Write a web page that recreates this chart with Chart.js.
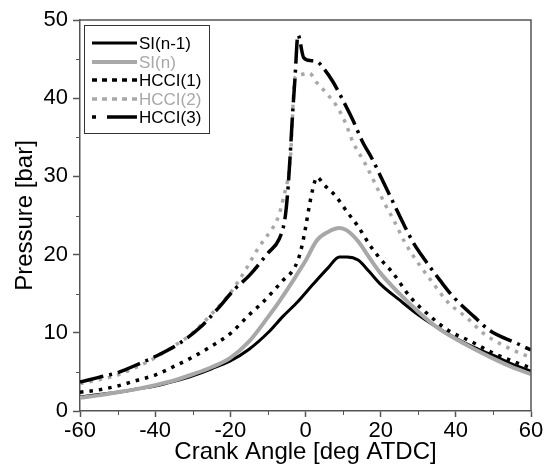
<!DOCTYPE html>
<html>
<head>
<meta charset="utf-8">
<script src="https://cdn.jsdelivr.net/npm/chart.js"></script>
<style>
  html, body { margin: 0; padding: 0; background: #fff; }
</style>
</head>
<body>
<canvas id="chart" width="551" height="470"></canvas>
<script>
// crank angle [deg ATDC] / pressure [bar]
const siPrevAngle = [-60,-55,-50,-45,-40,-35,-30,-25,-20,-15,-10,-6,-2,2,6,9,11,14,17,20,25,30,35,40,45,50,55,60];
const siPrevPressure = [1.8,2.1,2.4,2.8,3.2,3.8,4.5,5.4,6.4,7.9,10.0,12.1,14.0,16.2,18.3,19.7,19.7,19.3,17.8,16.2,14.2,12.3,10.7,9.3,8.1,7.1,6.0,5.1];

const siAngle = [-60,-55,-50,-45,-40,-35,-30,-25,-20,-15,-10,-7,-3,0,3,6,9,11,14,17,20,25,30,35,40,45,50,55,60];
const siPressure = [1.7,2.0,2.4,2.8,3.3,3.9,4.7,5.6,6.8,8.9,12.0,14.0,16.9,19.2,21.8,22.9,23.4,23.1,21.7,19.6,17.6,15.0,12.7,10.7,9.2,7.9,6.7,5.6,4.7];

const hcci1Angle = [-60,-55,-50,-45,-40,-35,-30,-25,-20,-15,-12,-9,-6,-3.5,-2,-1,0,1,2,3,5,8,11,14,17,20,23,28,33,38,44,50,55,60];
const hcci1Pressure = [2.4,2.7,3.2,3.9,4.6,5.7,6.9,8.3,9.9,12.3,13.6,15.1,16.7,17.9,19.3,21.0,23.4,26.2,28.5,29.9,28.9,27.5,25.5,23.6,21.3,19.4,17.8,14.5,12.2,10.3,8.9,7.4,6.4,5.5];

const hcci2Angle = [-60,-55,-50,-45,-40,-35,-30,-25,-20,-16,-13,-11,-9,-7.5,-6,-4,-2.8,-1.5,1,3,6,8,10.5,12.6,15.8,18.5,21,23.8,26.5,30,33.7,37.9,43,47.2,52.6,60];
const hcci2Pressure = [3.5,4.0,4.6,5.6,6.8,8.3,10.0,12.4,15.1,18.0,20.5,21.9,23.2,24.5,27.0,32.5,42.6,43.0,43.2,42.0,40.4,39.2,37.0,34.4,31.7,29.1,26.6,24.1,21.5,18.9,16.5,13.9,11.9,10.0,8.4,6.8];

const hcci3Angle = [-60,-55,-50,-44,-39,-33.4,-28,-23.5,-19,-14.8,-10,-7,-5.5,-4.8,-4.1,-3.5,-2.8,-2,-0.5,1.5,3,5,7.3,10,12.6,15,18,20,23.3,26,28.6,31.8,35.8,39.3,45,49,56,60];
const hcci3Pressure = [3.7,4.3,4.9,6.1,7.2,8.7,10.7,13.0,15.5,17.4,20.2,22.0,24.5,27.6,32.5,37.5,42.5,48.1,45.2,44.8,44.7,43.7,42.1,39.7,37.2,34.6,32.0,30.0,26.7,24.0,21.6,19.3,16.7,14.6,12.0,10.3,8.7,7.8];

const xTicks = [-60, -40, -20, 0, 20, 40, 60];
const yTicks = [0, 10, 20, 30, 40, 50];
const xMinor = [-50, -30, -10, 10, 30, 50];
const yMinor = [5, 15, 25, 35, 45];

const BLACK = '#000000';
const GREY = '#a8a8a8';
const AXIS = '#555555';
const FONT = "'Liberation Sans', Arial, sans-serif";

function pts(xs, ys) {
  return xs.map((x, i) => ({ x: x, y: ys[i] }));
}

// frame, minor ticks and the boxed legend
const extras = {
  id: 'extras',
  afterDraw(chart) {
    const { ctx, chartArea: a, scales: { x, y } } = chart;
    ctx.save();
    ctx.strokeStyle = AXIS;
    ctx.lineWidth = 1.5;
    ctx.beginPath();
    ctx.moveTo(a.left, a.top);
    ctx.lineTo(a.right, a.top);
    ctx.lineTo(a.right, a.bottom);
    ctx.stroke();

    ctx.lineWidth = 1;
    ctx.beginPath();
    xMinor.forEach(v => {
      const px = Math.round(x.getPixelForValue(v)) + 0.5;
      ctx.moveTo(px, a.bottom);
      ctx.lineTo(px, a.bottom + 4);
    });
    yMinor.forEach(v => {
      const py = Math.round(y.getPixelForValue(v)) + 0.5;
      ctx.moveTo(a.left, py);
      ctx.lineTo(a.left - 4, py);
    });
    ctx.stroke();

    // legend
    const bx = a.left + 4, by = a.top + 5;
    ctx.fillStyle = '#fff';
    ctx.fillRect(bx, by, 125, 108);
    ctx.strokeStyle = '#333';
    ctx.lineWidth = 1;
    ctx.strokeRect(bx + 0.5, by + 0.5, 125, 108);
    ctx.font = '17px ' + FONT;
    ctx.textBaseline = 'middle';
    ctx.textAlign = 'left';
    chart.data.datasets.forEach((ds, i) => {
      const ry = Math.round(by + 18 + i * 18.6);
      ctx.strokeStyle = ds.borderColor;
      ctx.lineWidth = ds.borderWidth;
      ctx.setLineDash(ds.legendDash || []);
      ctx.beginPath();
      ctx.moveTo(bx + 8, ry);
      ctx.lineTo(bx + 53, ry);
      ctx.stroke();
      ctx.setLineDash([]);
      ctx.fillStyle = ds.borderColor;
      ctx.fillText(ds.label, bx + 55, ry + 1);
    });
    ctx.restore();
  }
};

new Chart(document.getElementById('chart'), {
  type: 'line',
  data: {
    datasets: [
      { label: 'SI(n-1)', data: pts(siPrevAngle, siPrevPressure), borderColor: BLACK, borderWidth: 3, order: 5 },
      { label: 'SI(n)', data: pts(siAngle, siPressure), borderColor: GREY, borderWidth: 4, order: 4 },
      { label: 'HCCI(1)', data: pts(hcci1Angle, hcci1Pressure), borderColor: BLACK, borderWidth: 3.5,
        borderDash: [3.5, 6], legendDash: [5, 5], order: 3 },
      { label: 'HCCI(2)', data: pts(hcci2Angle, hcci2Pressure), borderColor: GREY, borderWidth: 3.5,
        borderDash: [3.5, 6], legendDash: [5, 5], order: 2 },
      { label: 'HCCI(3)', data: pts(hcci3Angle, hcci3Pressure), borderColor: BLACK, borderWidth: 3.5,
        borderDash: [24, 6, 3, 6], legendDash: [4, 11, 30, 11], order: 1 }
    ]
  },
  options: {
    responsive: false,
    animation: false,
    devicePixelRatio: 1,
    layout: { padding: { left: 0, right: 20, top: 20, bottom: 0 } },
    elements: {
      point: { radius: 0 },
      line: { cubicInterpolationMode: 'monotone', borderCapStyle: 'butt' }
    },
    plugins: { legend: { display: false }, tooltip: { enabled: false } },
    scales: {
      x: {
        type: 'linear', min: -60, max: 60,
        afterBuildTicks: s => { s.ticks = xTicks.map(v => ({ value: v })); },
        afterFit: s => { s.height = 59; },
        ticks: { color: BLACK, font: { family: FONT, size: 22 }, padding: 1, maxRotation: 0 },
        grid: { drawOnChartArea: false, tickLength: 6, tickColor: AXIS, tickWidth: 1.5 },
        border: { color: AXIS, width: 1.5 },
        title: { display: true, text: 'Crank Angle [deg ATDC]', color: BLACK,
                 font: { family: FONT, size: 24 }, padding: { top: 0, bottom: 3 } }
      },
      y: {
        type: 'linear', min: 0, max: 50,
        afterBuildTicks: s => { s.ticks = yTicks.map(v => ({ value: v })); },
        afterFit: s => { s.width = 80; },
        ticks: { color: BLACK, font: { family: FONT, size: 22 }, padding: 5 },
        grid: { drawOnChartArea: false, tickLength: 7, tickColor: AXIS, tickWidth: 1.5 },
        border: { color: AXIS, width: 1.5 },
        title: { display: true, text: 'Pressure [bar]', color: BLACK,
                 font: { family: FONT, size: 24 }, padding: { top: 11, bottom: 0 } }
      }
    }
  },
  plugins: [extras]
});
</script>
</body>
</html>
